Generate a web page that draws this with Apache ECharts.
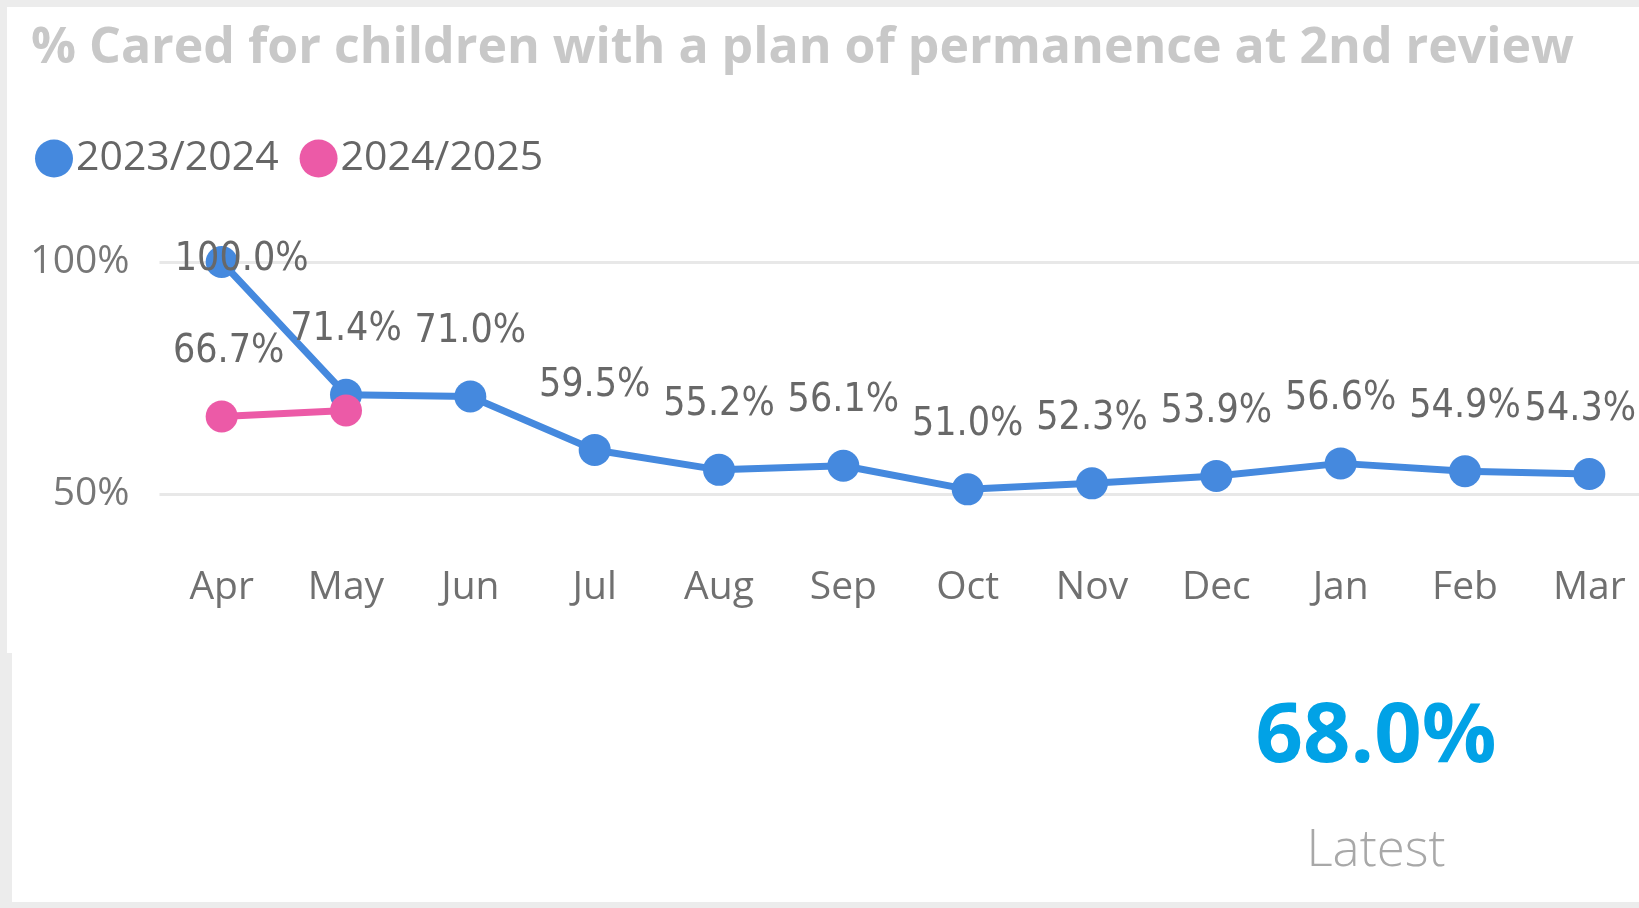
<!DOCTYPE html>
<html>
<head>
<meta charset="utf-8">
<title>% Cared for children with a plan of permanence at 2nd review</title>
<script src="https://cdn.jsdelivr.net/npm/echarts@6/dist/echarts.min.js"></script>
<style>
    html, body { margin: 0; padding: 0; background: #ececec; }
    #main { width: 1639px; height: 908px; }
</style>
</head>
<body>
<div id="main"></div>
<script>
// chart data
const months = ['Apr', 'May', 'Jun', 'Jul', 'Aug', 'Sep', 'Oct', 'Nov', 'Dec', 'Jan', 'Feb', 'Mar'];
const series2324 = [100.0, 71.4, 71.0, 59.5, 55.2, 56.1, 51.0, 52.3, 53.9, 56.6, 54.9, 54.3];
const series2425 = [66.7, 68.0];
const seriesNames = ['2023/2024', '2024/2025'];
const yTicks = [50, 100];
const latestValue = '68.0%';
const latestLabel = 'Latest';

const BLUE = '#4589de';
const PINK = '#ec5aa7';
const labelFont = '"DejaVu Sans Condensed", "Liberation Sans Narrow", sans-serif';
const uiFont = '"Open Sans", "Noto Sans", sans-serif';

const chart = echarts.init(document.getElementById('main'));

// 数据标签
const pointLabel = {
    show: true,
    position: 'top',
    distance: 29,
    fontFamily: labelFont,
    fontSize: 39,
    color: '#686868',
    formatter: p => p.value.toFixed(1) + '%'
};

const blueData = series2324.map((v, i) => {
    if (i === 0) {
        // top point: label sits over the marker
        return { value: v, label: { position: 'inside', offset: [20, -2] } };
    }
    if (i === series2324.length - 1) {
        return { value: v, label: { offset: [-9, 0] } };
    }
    return v;
});
const pinkData = series2425.map((v, i) => {
    if (i === 0) return { value: v, label: { offset: [7, 0] } };
    // latest pink label is hidden behind the blue one in the source
    return { value: v, label: { show: false } };
});

chart.setOption({
    backgroundColor: '#ececec',
    animation: false,
    graphic: [
        { type: 'rect', z: -10, shape: { x: 7, y: 7, width: 1640, height: 646 }, style: { fill: '#ffffff' } },
        { type: 'rect', z: -10, shape: { x: 12, y: 652, width: 1640, height: 250 }, style: { fill: '#ffffff' } },
        {
            type: 'text', x: 1376, y: 738,
            style: { text: latestValue, align: 'center', verticalAlign: 'middle', fill: '#01a2e6',
                font: 'bold 83px ' + uiFont }
        },
        {
            type: 'text', x: 1376, y: 851,
            style: { text: latestLabel, align: 'center', verticalAlign: 'middle', fill: '#a8a8a8',
                font: '300 51px ' + uiFont }
        }
    ],
    title: {
        text: '% Cared for children with a plan of permanence at 2nd review',
        left: 26,
        top: 19,
        textStyle: { fontFamily: uiFont, fontWeight: 'bold', fontSize: 50, color: '#c8c8c8' }
    },
    legend: {
        left: 30,
        top: 133,
        icon: 'circle',
        itemWidth: 38,
        itemHeight: 38,
        itemGap: 21,
        textStyle: { fontFamily: uiFont, fontSize: 41, color: '#666666', padding: [0, 0, 0, -2] },
        data: seriesNames
    },
    // gridlines run off the right edge, as in the source
    grid: { left: 159.5, right: -12.5, top: 262, bottom: 414, outerBoundsMode: 'none' },
    xAxis: {
        type: 'category',
        data: months,
        boundaryGap: true,
        axisLine: { show: false },
        axisTick: { show: false },
        axisLabel: { margin: 74, fontFamily: uiFont, fontSize: 39, color: '#707070' }
    },
    yAxis: {
        type: 'value',
        min: yTicks[0],
        max: yTicks[yTicks.length - 1],
        interval: yTicks[1] - yTicks[0],
        axisLine: { show: false },
        axisTick: { show: false },
        axisLabel: { margin: 30, fontFamily: uiFont, fontSize: 39, color: '#777777', formatter: '{value}%' },
        splitLine: { lineStyle: { color: '#e8e8e8', width: 3 } }
    },
    series: [
        {
            name: seriesNames[0],
            type: 'line',
            data: blueData,
            color: BLUE,
            symbol: 'circle',
            symbolSize: 32,
            lineStyle: { width: 7 },
            label: pointLabel,
            z: 3
        },
        {
            name: seriesNames[1],
            type: 'line',
            data: pinkData,
            color: PINK,
            symbol: 'circle',
            symbolSize: 32,
            lineStyle: { width: 7 },
            label: pointLabel,
            z: 4
        }
    ]
});
</script>
</body>
</html>
